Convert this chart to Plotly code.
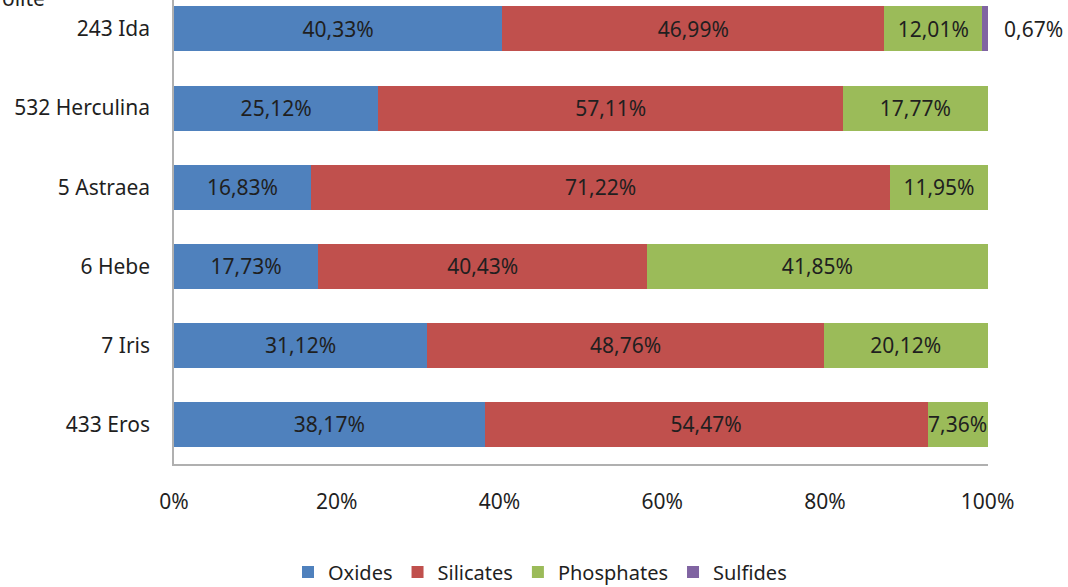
import plotly.graph_objects as go

# Mineral composition of asteroids (percent by group)
asteroids = ["433 Eros", "7 Iris", "6 Hebe", "5 Astraea", "532 Herculina", "243 Ida"]
oxides = [38.17, 31.12, 17.73, 16.83, 25.12, 40.33]
silicates = [54.47, 48.76, 40.43, 71.22, 57.11, 46.99]
phosphates = [7.36, 20.12, 41.85, 11.95, 17.77, 12.01]
sulfides = [0, 0, 0, 0, 0, 0.67]

tick_vals = [0, 20, 40, 60, 80, 100]
tick_text = ["0%", "20%", "40%", "60%", "80%", "100%"]

FONT = "Noto Sans"
SIZE = 21
TXT = "#1f1f1f"


def fmt(v):
    return f"{v:.2f}".replace(".", ",") + "%" if v > 0 else ""


series = [
    ("Oxides", oxides, "#4F81BD"),
    ("Silicates", silicates, "#C0504D"),
    ("Phosphates", phosphates, "#9BBB59"),
    ("Sulfides", sulfides, "#8064A2"),
]

fig = go.Figure()
for name, vals, color in series:
    labelled = name != "Sulfides"
    fig.add_trace(go.Bar(
        y=list(range(len(asteroids))),
        x=vals,
        name=name,
        orientation="h",
        marker=dict(color=color, line=dict(width=0)),
        text=[fmt(v) for v in vals] if labelled else None,
        textposition="inside" if labelled else "none",
        insidetextanchor="middle",
        textangle=0,
        textfont=dict(family=FONT, size=SIZE, color=TXT),
        cliponaxis=False,
        constraintext="none",
        hoverinfo="x+name",
    ))

# small sulfide share is labelled just past the end of its bar
annotations = []
for i, v in enumerate(sulfides):
    if v > 0:
        end = oxides[i] + silicates[i] + phosphates[i] + v
        annotations.append(dict(
            x=end, y=i, xref="x", yref="y",
            text=fmt(v), showarrow=False,
            xanchor="left", yanchor="middle", xshift=14,
            font=dict(family=FONT, size=SIZE, color=TXT),
        ))

# clipped heading above the plot
annotations.append(dict(
    text="olite",
    xref="paper", yref="paper",
    x=-174 / 814, xanchor="left",
    y=1 + 2 / 464, yanchor="middle",
    showarrow=False,
    font=dict(family=FONT, size=SIZE, color=TXT),
))

fig.update_layout(
    barmode="stack",
    bargap=0.43,
    width=1068,
    height=587,
    margin=dict(l=174, r=80, t=0, b=123),
    plot_bgcolor="white",
    paper_bgcolor="white",
    font=dict(family=FONT, size=SIZE, color=TXT),
    legend=dict(
        orientation="h",
        xref="container", yref="container",
        x=540 / 1068, xanchor="center",
        y=1 - 572 / 587, yanchor="middle",
        font=dict(family=FONT, size=20, color=TXT),
        itemwidth=30,
        traceorder="normal",
    ),
    xaxis=dict(
        range=[0, 100.05],
        tickvals=tick_vals,
        ticktext=tick_text,
        showgrid=False,
        zeroline=False,
        showline=True,
        linecolor="#b0b0b0",
        linewidth=1.5,
        ticks="",
        ticklabelstandoff=18,
        tickfont=dict(family=FONT, size=SIZE, color=TXT),
        fixedrange=True,
    ),
    yaxis=dict(
        range=[-0.5, 5.366],
        tickvals=list(range(len(asteroids))),
        ticktext=asteroids,
        showgrid=False,
        zeroline=False,
        showline=True,
        linecolor="#b0b0b0",
        linewidth=1.5,
        ticks="",
        ticklabelstandoff=18,
        tickfont=dict(family=FONT, size=SIZE, color=TXT),
        fixedrange=True,
    ),
    annotations=annotations,
)

fig.write_html("out.html")
